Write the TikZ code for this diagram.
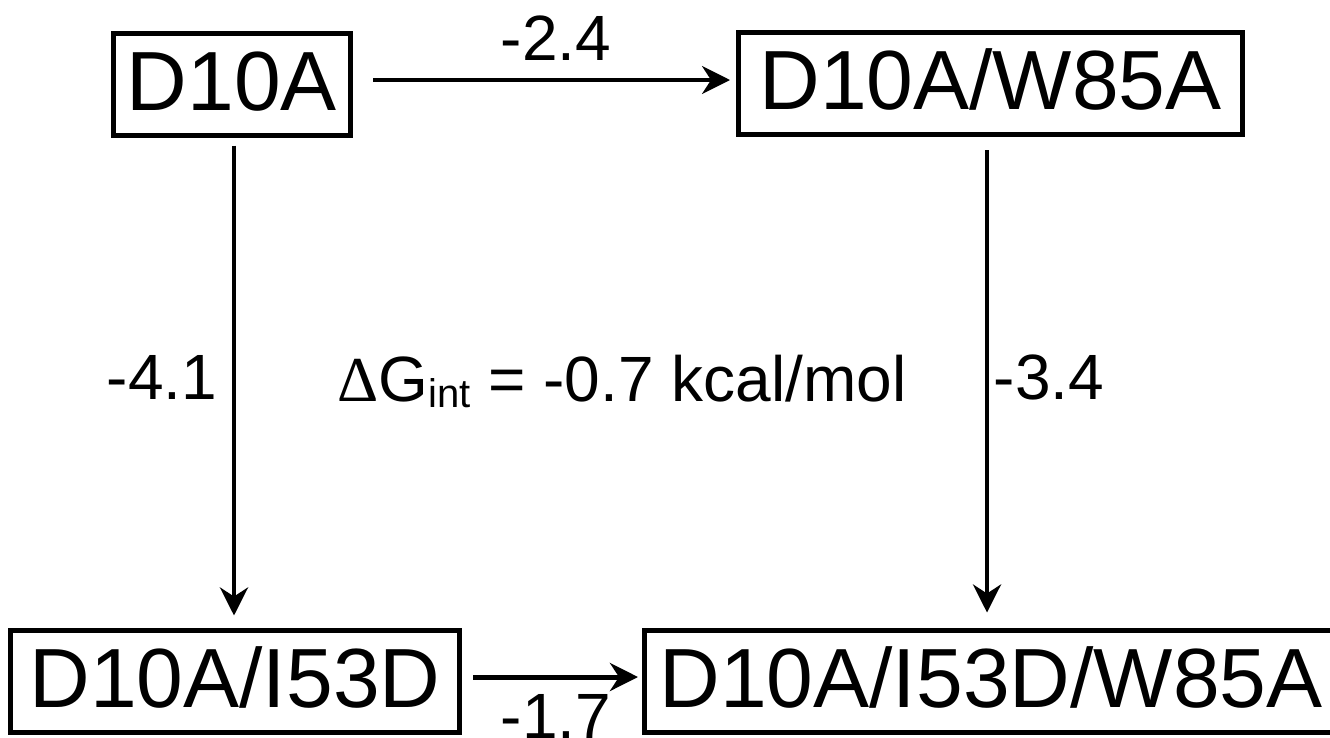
\documentclass[tikz,border=0pt]{standalone}
\usepackage{fontspec}
\setmainfont{Liberation Sans}
\newfontfamily\deltafont{Liberation Serif}
\usetikzlibrary{arrows.meta}
\begin{document}
\begin{tikzpicture}[x=1pt,y=-1pt,
  box/.style={draw, line width=5pt, inner sep=0pt, text height=60pt, text depth=8pt,
    minimum height=102pt, font=\fontsize{84}{84}\selectfont},
  lbl/.style={anchor=base, inner sep=0pt, font=\fontsize{64}{64}\selectfont},
  arr/.style={-{Stealth[length=28pt,width=28pt,inset=9pt]}},
]
\useasboundingbox (0,0) rectangle (1330,737);
\clip (0,0) rectangle (1330,737);
\fill[white] (0,0) rectangle (1330,737);

\node[box, minimum width=237pt] (b1) at (232,84) {D10A};
\node[box, minimum width=504pt] (b2) at (990.5,83.5) {D10A/W85A};
\node[box, minimum width=449pt] (b3) at (235,681) {D10A/I53D};
\node[box, minimum width=693pt] (b4) at (991,681) {D10A/I53D/W85A};

\draw[arr, line width=3.5pt, shorten <=20pt, shorten >=6pt]
  ([yshift=4pt]b1.east) -- ([yshift=4pt]b1.east -| b2.west);
\draw[arr, line width=4.5pt, shorten <=8pt, shorten >=12pt]
  ([xshift=-1pt]b3.north |- b1.south) -- ([xshift=-1pt]b3.north);
\draw[arr, line width=4.5pt, shorten <=13pt, shorten >=15pt]
  ([xshift=-4pt]b4.north |- b2.south) -- ([xshift=-4pt]b4.north);
\draw[arr, line width=5pt, shorten <=11pt, shorten >=4pt]
  ([yshift=4pt]b3.east) -- ([yshift=4pt]b3.east -| b4.west);

\node[lbl] (l1) at (556,60) {-2.4};
\node[lbl] (l2) at (162,399) {-4.1};
\node[lbl] (l3) at (1049,399) {-3.4};
\node[lbl] (l4) at (556,738) {-1.7};
\node[lbl] (dg) at (622,401) {{\deltafont Δ}G\raisebox{-6pt}{\fontsize{40}{40}\selectfont int} = -0.7 kcal/mol};
\end{tikzpicture}
\end{document}
